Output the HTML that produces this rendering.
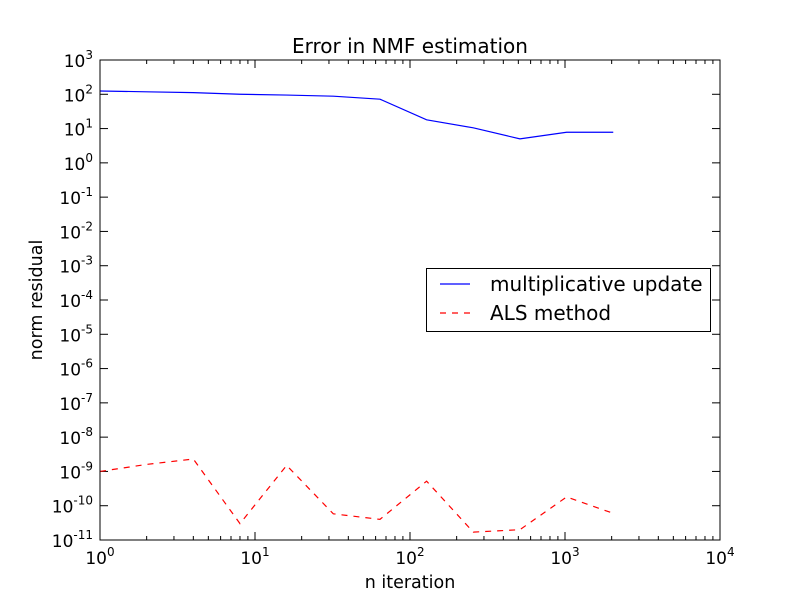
<!DOCTYPE html>
<html><head><meta charset="utf-8"><style>
body{margin:0;background:#fff}
svg text{font-family:"DejaVu Sans","Liberation Sans",sans-serif;fill:#000}
</style></head><body>
<svg id="chart" width="800" height="600" viewBox="0 0 800 600" xmlns="http://www.w3.org/2000/svg">
<rect width="800" height="600" fill="#fff"/>
<text x="410" y="53" font-size="20" text-anchor="middle">Error in NMF estimation</text>
<text x="410" y="588" font-size="17.5" text-anchor="middle">n iteration</text>
<text transform="translate(42,300) rotate(-90)" font-size="17.5" text-anchor="middle">norm residual</text>
<g id="ticks"></g>
<g id="series"></g>
<rect x="100" y="60" width="620" height="480" fill="none" stroke="#000" stroke-width="1"/>
<g>
<rect x="426.5" y="268.5" width="284" height="63" fill="#fff" stroke="#000"/>
<line x1="440" y1="284" x2="470" y2="284" stroke="#0000ff" stroke-width="1.2"/>
<text x="490" y="291" font-size="20">multiplicative update</text>
<line x1="440" y1="313" x2="470" y2="313" stroke="#ff0000" stroke-width="1.2" stroke-dasharray="6,6"/>
<text x="490" y="320" font-size="20">ALS method</text>
</g>
</svg>
<script>
const xIter = [1,2,4,8,16,32,64,128,256,512,1024,2048];
const muValues = [125,118,112,100,95,88,72,18,10.5,5,7.8,7.8];
const alsValues = [1e-9,1.6e-9,2.3e-9,3e-11,1.5e-9,5.8e-11,4e-11,5.2e-10,1.7e-11,2e-11,1.8e-10,6e-11];
const xTickExp = [0,1,2,3,4];
const yTickExp = [3,2,1,0,-1,-2,-3,-4,-5,-6,-7,-8,-9,-10,-11];

const NS='http://www.w3.org/2000/svg';
const X0=100,X1=720,Y0=60,Y1=540;
function xs(v){return X0+(Math.log10(v)-0)/4*(X1-X0);}
function ys(v){return Y1-(Math.log10(v)+11)/14*(Y1-Y0);}
function mk(t,a,p){const e=document.createElementNS(NS,t);for(const k in a)e.setAttribute(k,a[k]);p.appendChild(e);return e;}
const tg=document.getElementById('ticks');
xTickExp.forEach(e=>{
  const x=xs(Math.pow(10,e));
  mk('line',{x1:x,y1:Y1,x2:x,y2:Y1-8,stroke:'#000'},tg);
  mk('line',{x1:x,y1:Y0,x2:x,y2:Y0+8,stroke:'#000'},tg);
  for(let m=2;m<10&&e<4;m++){const xm=xs(m*Math.pow(10,e));
    mk('line',{x1:xm,y1:Y1,x2:xm,y2:Y1-4,stroke:'#000'},tg);
    mk('line',{x1:xm,y1:Y0,x2:xm,y2:Y0+4,stroke:'#000'},tg);}
  const t=mk('text',{x:x,y:Y1+24,'font-size':17,'text-anchor':'middle'},tg);
  
  
  t.innerHTML='10<tspan dy="-8" font-size="12">'+e+'</tspan>';
});
yTickExp.forEach(e=>{
  const y=ys(Math.pow(10,e));
  mk('line',{x1:X0,y1:y,x2:X0+8,y2:y,stroke:'#000'},tg);
  mk('line',{x1:X1,y1:y,x2:X1-8,y2:y,stroke:'#000'},tg);
  const t=mk('text',{x:X0-7,y:y+7,'font-size':17,'text-anchor':'end'},tg);
  
  
  t.innerHTML='10<tspan dy="-8" font-size="12">'+e+'</tspan>';
});
const sg=document.getElementById('series');
const p1=mk('polyline',{points:xIter.map((v,i)=>xs(v)+','+ys(muValues[i])).join(' '),fill:'none',stroke:'#0000ff','stroke-width':1.2},sg);


const p2=mk('polyline',{points:xIter.map((v,i)=>xs(v)+','+ys(alsValues[i])).join(' '),fill:'none',stroke:'#ff0000','stroke-width':1.2,'stroke-dasharray':'6,6'},sg);


</script>
</body></html>
